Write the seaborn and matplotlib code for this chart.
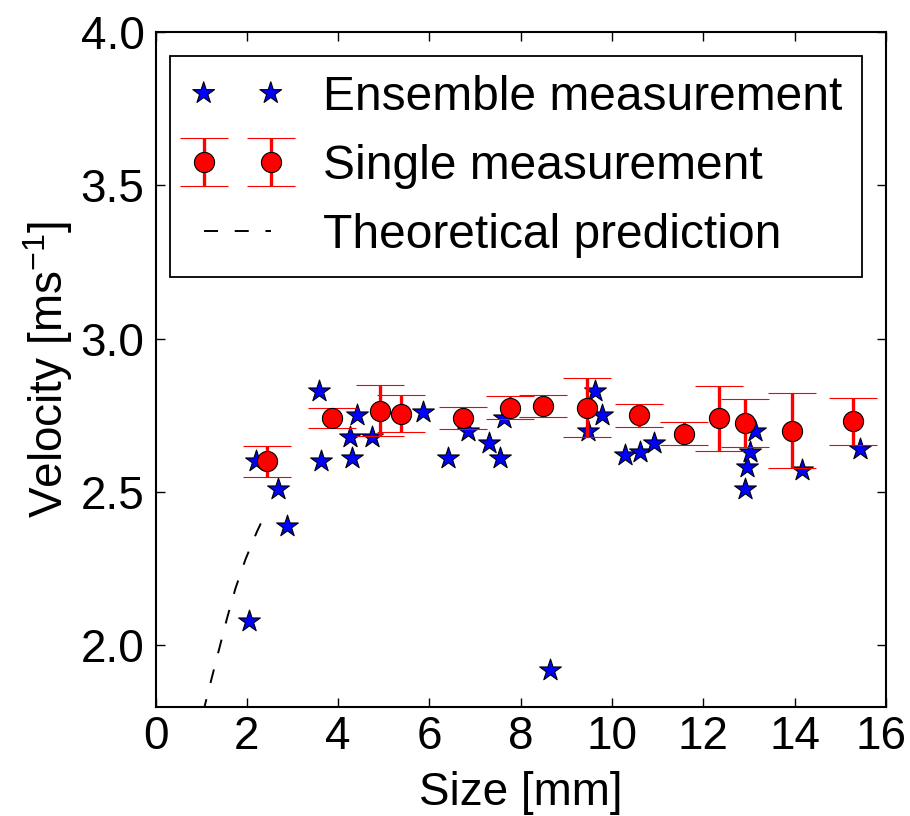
import seaborn as sns
import matplotlib.pyplot as plt
import matplotlib.transforms as mtransforms

# Ensemble measurement (blue stars)
ens_size = [2.04, 2.19, 2.69, 2.87, 3.57, 3.63, 4.25, 4.31, 4.42, 4.75,
            5.86, 6.41, 6.85, 7.31, 7.55, 7.63, 8.64, 9.48, 9.63, 9.78,
            10.28, 10.61, 10.92, 12.91, 12.95, 13.02, 13.13, 14.15, 15.43]
ens_vel = [2.08, 2.60, 2.51, 2.39, 2.83, 2.60, 2.68, 2.61, 2.75, 2.68,
           2.76, 2.61, 2.70, 2.66, 2.61, 2.74, 1.92, 2.70, 2.83, 2.75,
           2.62, 2.63, 2.66, 2.51, 2.58, 2.63, 2.70, 2.57, 2.64]

# Single measurement (red circles with error bars)
single_size = [2.45, 3.87, 4.92, 5.38, 6.74, 7.77, 8.49, 9.45, 10.60,
               11.58, 12.34, 12.91, 13.94, 15.27]
single_vel = [2.60, 2.74, 2.765, 2.755, 2.74, 2.775, 2.78, 2.775, 2.75,
              2.69, 2.74, 2.725, 2.70, 2.73]
single_err = [0.05, 0.033, 0.082, 0.06, 0.036, 0.038, 0.035, 0.097, 0.037,
              0.037, 0.105, 0.079, 0.122, 0.077]

# Theoretical prediction (dashed curve)
theory_size = [1.04, 1.20, 1.38, 1.57, 1.75, 1.97, 2.22, 2.41]
theory_vel = [1.78, 1.875, 1.98, 2.09, 2.185, 2.28, 2.37, 2.43]

sns.set_theme(style="ticks", rc={
    "xtick.direction": "in",
    "ytick.direction": "in",
    "xtick.top": True,
    "ytick.right": True,
    "axes.linewidth": 1.5,
    "axes.edgecolor": "black",
    "text.color": "black",
    "axes.labelcolor": "black",
    "xtick.color": "black",
    "ytick.color": "black",
})
plt.rcParams["font.family"] = ["Liberation Sans", "DejaVu Sans"]
plt.rcParams["mathtext.default"] = "regular"
plt.rcParams["font.size"] = 33

fig = plt.figure(figsize=(9.1, 8.16), dpi=100)
ax = fig.add_axes([0.1709, 0.134, 0.8027, 0.827])

sns.scatterplot(x=ens_size, y=ens_vel, marker="*", s=270, color="blue",
                edgecolor="black", linewidth=0.8, label="Ensemble measurement",
                ax=ax, zorder=2, legend=False)
sns.lineplot(x=theory_size, y=theory_vel, color="black", linewidth=1.4,
             linestyle=(0, (7.2, 8.6)), sort=False, ax=ax,
             label="Theoretical prediction", legend=False)
ax.errorbar(single_size, single_vel, yerr=single_err, fmt="o", color="red",
            ms=14.5, mec="black", mew=0.8, ecolor="red", elinewidth=2.4,
            capsize=17.6, capthick=1.0, label="Single measurement", zorder=3)

ax.set_xlim(0, 16)
ax.set_ylim(1.8, 4.0)
ax.set_xticks(range(0, 17, 2))
ax.set_yticks([2.0, 2.5, 3.0, 3.5, 4.0])
ax.tick_params(axis="both", labelsize=33, length=6.5, width=1.0)
ax.tick_params(axis="x", pad=6)
ax.tick_params(axis="y", pad=8)
ax.set_xlabel("Size [mm]", fontsize=33, labelpad=9)
ax.set_ylabel(r"Velocity [ms$^{-1}$]", fontsize=33)

# last x tick label sits a little inside, as in the original
last = ax.get_xticklabels()[-1]
last.set_transform(last.get_transform()
                   + mtransforms.ScaledTranslation(-5 / 100, 0, fig.dpi_scale_trans))

handles, labels = ax.get_legend_handles_labels()
lookup = dict(zip(labels, handles))
order = ["Ensemble measurement", "Single measurement", "Theoretical prediction"]
leg = ax.legend([lookup[k] for k in order], order, loc="upper right",
                scatterpoints=2, scatteryoffsets=[0.5], numpoints=2,
                handlelength=2.0, handletextpad=0.8, borderpad=0.4,
                borderaxespad=0.5, labelspacing=0.5, fancybox=False,
                edgecolor="black", framealpha=1, fontsize=34.5)
leg.get_frame().set_linewidth(1.3)

fig.savefig("out.png", dpi=100)
